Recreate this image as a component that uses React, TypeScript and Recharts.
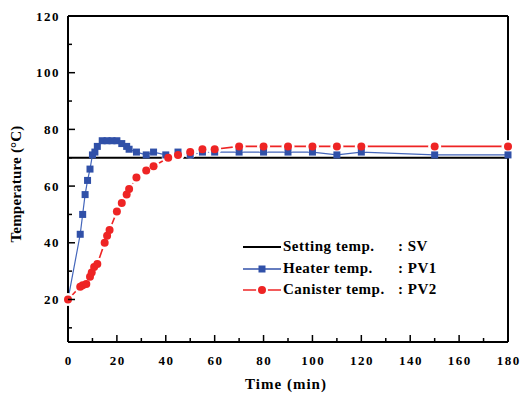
import { LineChart, Line, XAxis, YAxis } from "recharts"

const timeTicks = [0, 10, 20, 30, 40, 50, 60, 70, 80, 90, 100, 110, 120, 130, 140, 150, 160, 170, 180]
const tempTicks = [10, 20, 30, 40, 50, 60, 70, 80, 90, 100, 110, 120]

const svTime = [0, 180]
const svTemp = [70, 70]

const heaterTime = [0, 5, 6, 7, 8, 9, 10, 11, 12, 14, 16, 18, 20, 22, 24, 25, 28, 32, 35, 40, 45, 50, 55, 60, 70, 80, 90, 100, 110, 120, 150, 180]
const heaterTemp = [20, 43, 50, 57, 62, 66, 71, 72, 74, 76, 76, 76, 76, 75, 74, 73, 72, 71, 72, 71, 72, 71, 72, 72, 72, 72, 72, 72, 71, 72, 71, 71]

const canisterTime = [0, 5, 6, 7.5, 9, 9.7, 10.7, 12, 15, 16, 17, 20, 22, 24, 25, 28, 32, 35, 41, 45, 50, 55, 60, 70, 80, 90, 100, 110, 120, 150, 180]
const canisterTemp = [20, 24.5, 25, 25.5, 28, 29.5, 31.5, 32.5, 40, 42.5, 44.5, 51, 54, 57, 59, 63, 65.5, 67, 70, 71, 72, 73, 73, 74, 74, 74, 74, 74, 74, 74, 74]

const seriesNames = ["Setting temp.", "Heater temp.", "Canister temp."]
const seriesCodes = ["SV", "PV1", "PV2"]
const seriesColors = ["#000000", "#3352aa", "#ee2424"]

const toRows = (t: number[], v: number[]) => t.map((x, i) => ({ t: x, T: v[i] }))
const svData = toRows(svTime, svTemp)
const heaterData = toRows(heaterTime, heaterTemp)
const canisterData = toRows(canisterTime, canisterTemp)

// plot box in page pixels
const W = 522
const H = 394
const PL = 68
const PR = 508
const PT = 16
const PB = 342

const FONT = '"Liberation Serif", "Times New Roman", serif'
const tickText = { fontFamily: FONT, fontWeight: 700, fontSize: 13, letterSpacing: 1.5, fill: "#000" }

function BottomTick({ x, payload }: any) {
  const v = payload.value
  const major = v % 20 === 0
  return (
    <g>
      <line x1={x} x2={x} y1={PB} y2={PB - (major ? 7 : 4)} stroke="#000" strokeWidth={1.5} />
      {major && (
        <text x={x + 0.75} y={365} textAnchor="middle" style={tickText}>
          {v}
        </text>
      )}
    </g>
  )
}

function TopTick({ x, payload }: any) {
  const major = payload.value % 20 === 0
  return <line x1={x} x2={x} y1={PT} y2={PT + (major ? 7 : 4)} stroke="#000" strokeWidth={1.5} />
}

function LeftTick({ y, payload }: any) {
  const v = payload.value
  const major = v % 20 === 0
  return (
    <g>
      <line x1={PL} x2={PL + (major ? 7 : 4)} y1={y} y2={y} stroke="#000" strokeWidth={1.5} />
      {major && (
        <text x={60} y={y + 4.5} textAnchor="end" style={tickText}>
          {v}
        </text>
      )}
    </g>
  )
}

function RightTick({ y, payload }: any) {
  const major = payload.value % 20 === 0
  return <line x1={PR} x2={PR - (major ? 7 : 4)} y1={y} y2={y} stroke="#000" strokeWidth={1.5} />
}

function SquareDot({ cx, cy, index }: any) {
  if (index === 0) return <g key={"h" + index} />
  return <rect key={"h" + index} x={cx - 3.5} y={cy - 3.5} width={7} height={7} fill="#3050a8" />
}

function LegendIcon({ i }: { i: number }) {
  return (
    <svg width={38} height={12} style={{ display: "block" }}>
      <line x1={0} x2={38} y1={6} y2={6} stroke={seriesColors[i]} strokeWidth={i === 0 ? 2 : 1.4} />
      {i === 1 && <rect x={15.5} y={2.5} width={7} height={7} fill="#3050a8" />}
      {i === 2 && <circle cx={19} cy={6} r={5} fill={seriesColors[2]} stroke="#fff" strokeWidth={2} />}
    </svg>
  )
}

export default function App() {
  return (
    <div style={{ position: "absolute", left: 0, top: 0, width: W, height: H, background: "#fff" }}>
      <LineChart width={W} height={H} margin={{ top: PT, right: W - PR, bottom: 0, left: 0 }}>
        <XAxis
          type="number"
          dataKey="t"
          domain={[0, 180]}
          ticks={timeTicks}
          height={H - PB}
          axisLine={{ stroke: "#000", strokeWidth: 2 }}
          tickLine={false}
          tick={<BottomTick />}
          interval={0}
          label={{
            content: () => (
              <text x={286} y={389} textAnchor="middle" style={{ fontFamily: FONT, fontWeight: 700, fontSize: 15, letterSpacing: 1 }}>
                Time (min)
              </text>
            ),
          }}
        />
        <XAxis
          xAxisId="top"
          orientation="top"
          type="number"
          dataKey="t"
          domain={[0, 180]}
          ticks={timeTicks}
          mirror
          axisLine={{ stroke: "#000", strokeWidth: 2 }}
          tickLine={false}
          tick={<TopTick />}
          interval={0}
        />
        <YAxis
          type="number"
          domain={[5, 120]}
          ticks={tempTicks}
          width={PL}
          axisLine={{ stroke: "#000", strokeWidth: 2 }}
          tickLine={false}
          tick={<LeftTick />}
          interval={0}
          label={{
            content: () => (
              <text
                x={0}
                y={0}
                transform="translate(21 184) rotate(-90)"
                textAnchor="middle"
                style={{ fontFamily: FONT, fontWeight: 700, fontSize: 15, letterSpacing: 0.2 }}
              >
                Temperature (°C)
              </text>
            ),
          }}
        />
        <YAxis
          yAxisId="right"
          orientation="right"
          type="number"
          domain={[5, 120]}
          ticks={tempTicks}
          mirror
          axisLine={{ stroke: "#000", strokeWidth: 2 }}
          tickLine={false}
          tick={<RightTick />}
          interval={0}
        />
        <Line
          data={svData}
          dataKey="T"
          name={seriesNames[0]}
          stroke={seriesColors[0]}
          strokeWidth={2}
          dot={false}
          activeDot={false}
          isAnimationActive={false}
        />
        {/* canister line with white gaps around its symbols */}
        <Line
          data={canisterData}
          dataKey="T"
          name={seriesNames[2]}
          stroke={seriesColors[2]}
          strokeWidth={1.6}
          dot={{ r: 6.5, fill: "#fff", stroke: "none" }}
          activeDot={false}
          legendType="none"
          isAnimationActive={false}
        />
        <Line
          data={heaterData}
          dataKey="T"
          name={seriesNames[1]}
          stroke="#4466bb"
          strokeWidth={1.2}
          dot={<SquareDot />}
          activeDot={false}
          isAnimationActive={false}
        />
        <Line
          data={canisterData}
          dataKey="T"
          name={seriesNames[2]}
          stroke="none"
          dot={{ r: 4, fill: seriesColors[2], stroke: "none" }}
          activeDot={false}
          isAnimationActive={false}
        />
      </LineChart>
      <div
        style={{
          position: "absolute",
          left: 243,
          top: 236,
          fontFamily: FONT,
          fontWeight: 700,
          fontSize: 15,
          letterSpacing: 0.5,
          lineHeight: "21.7px",
          color: "#000",
        }}
      >
        {seriesNames.map((n, i) => (
          <div key={n} style={{ display: "flex", alignItems: "center", height: 21.7 }}>
            <LegendIcon i={i} />
            <span style={{ display: "inline-block", minWidth: 112, marginLeft: 2 }}>{n}</span>
            <span style={{ marginLeft: 3 }}>: {seriesCodes[i]}</span>
          </div>
        ))}
      </div>
    </div>
  )
}
